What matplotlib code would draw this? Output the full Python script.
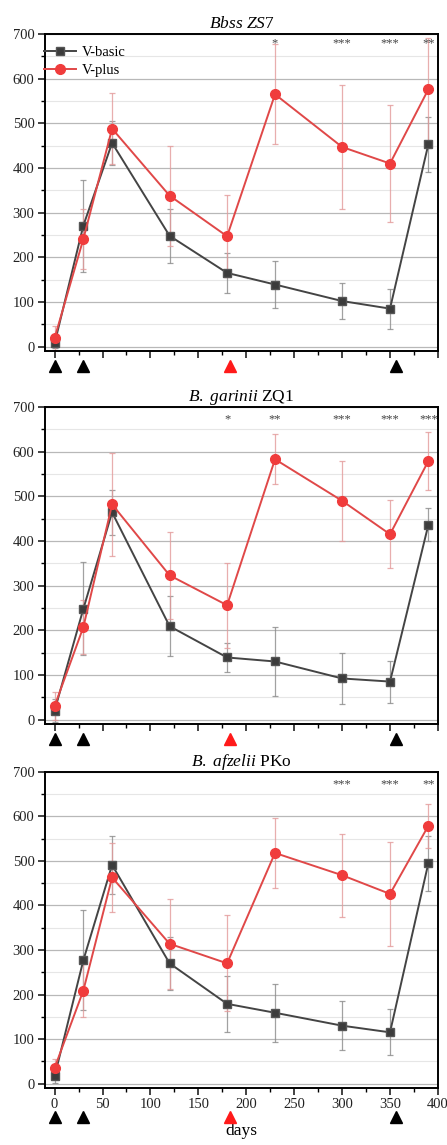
import matplotlib
matplotlib.use("Agg")
import matplotlib.pyplot as plt
import matplotlib.transforms as mtransforms
from matplotlib.ticker import MultipleLocator

plt.rcParams["font.family"] = ["Liberation Serif", "DejaVu Serif"]
plt.rcParams["mathtext.fontset"] = "custom"
plt.rcParams["mathtext.rm"] = "Liberation Serif"
plt.rcParams["mathtext.it"] = "Liberation Serif:italic"

days = [0, 30, 60, 120, 180, 230, 300, 350, 390]

titles = [r"$\it{Bbss\ ZS7}$", r"$\it{B.\ garinii}$ ZQ1", r"$\it{B.\ afzelii}$ PKo"]

basic_zs7 = [7, 271, 456, 248, 165, 139, 102, 85, 453]
basic_zs7_sd = [10, 103, 50, 61, 45, 52, 40, 45, 61]
plus_zs7 = [19, 241, 488, 338, 247, 565, 447, 410, 576]
plus_zs7_sd = [26, 68, 80, 112, 92, 112, 138, 131, 115]

basic_zq1 = [20, 248, 464, 209, 139, 130, 92, 85, 436]
basic_zq1_sd = [25, 104, 50, 67, 32, 77, 58, 47, 37]
plus_zq1 = [30, 207, 482, 323, 256, 583, 490, 415, 579]
plus_zq1_sd = [31, 61, 115, 98, 95, 56, 90, 76, 65]

basic_pko = [16, 277, 491, 270, 179, 159, 130, 115, 495]
basic_pko_sd = [15, 112, 65, 59, 63, 65, 55, 52, 62]
plus_pko = [35, 209, 463, 314, 270, 518, 468, 426, 579]
plus_pko_sd = [19, 60, 77, 101, 108, 78, 93, 117, 49]

# significance marks: (day, stars)
stars_zs7 = [(230, "*"), (300, "***"), (350, "***"), (390, "**")]
stars_zq1 = [(180, "*"), (230, "**"), (300, "***"), (350, "***"), (390, "***")]
stars_pko = [(300, "***"), (350, "***"), (390, "**")]
star_y = [680, 672, 672]

# immunisation days (triangles under the axis)
boost_black = [0, 30, 356]
boost_red = [183]

panels = [
    (basic_zs7, basic_zs7_sd, plus_zs7, plus_zs7_sd, stars_zs7),
    (basic_zq1, basic_zq1_sd, plus_zq1, plus_zq1_sd, stars_zq1),
    (basic_pko, basic_pko_sd, plus_pko, plus_pko_sd, stars_pko),
]

GRAY = "#3c3c3c"
RED = "#f03c3c"

fig = plt.figure(figsize=(4.47, 11.45), dpi=100)
ax_rects = [
    [0.1007, 0.6934, 0.879, 0.2769],
    [0.1007, 0.3677, 0.879, 0.2768],
    [0.1007, 0.0498, 0.879, 0.2760],
]

for i, (b, bsd, p, psd, stars) in enumerate(panels):
    ax = fig.add_axes(ax_rects[i])
    ax.set_xlim(-10, 400)
    ax.set_ylim(-10, 700)
    ax.yaxis.set_major_locator(MultipleLocator(100))
    ax.yaxis.set_minor_locator(MultipleLocator(50))
    ax.xaxis.set_major_locator(MultipleLocator(50))
    ax.xaxis.set_minor_locator(MultipleLocator(25))
    ax.grid(True, which="major", axis="y", color="#b8b8b8", lw=0.9)
    ax.grid(True, which="minor", axis="y", color="#e6e6e6", lw=0.8)
    ax.set_axisbelow(True)
    ax.tick_params(which="major", direction="out", length=5, width=1.2, labelsize=10.5,
                   colors="#222222", pad=2.5)
    ax.tick_params(which="minor", direction="out", length=3, width=1.0)
    for sp in ax.spines.values():
        sp.set_linewidth(1.4)
    if i < 2:
        ax.tick_params(axis="x", labelbottom=False)

    ax.errorbar(days, b, yerr=bsd, fmt="none", ecolor="#8a8a8a", elinewidth=0.9,
                capsize=2.5, capthick=0.9, alpha=0.8, zorder=2)
    ax.errorbar(days, p, yerr=psd, fmt="none", ecolor="#e39a9a", elinewidth=0.9,
                capsize=2.5, capthick=0.9, alpha=0.8, zorder=2)
    ax.plot(days, b, color="#444444", lw=1.4, marker="s", ms=6, mfc=GRAY,
            mec="#555555", label="V-basic", zorder=3)
    ax.plot(days, p, color="#e04848", lw=1.4, marker="o", ms=7, mfc=RED,
            mec=RED, label="V-plus", zorder=4)

    for d, s in stars:
        ax.text(d, star_y[i], s, ha="center", va="center", fontsize=9, color="#444444")

    ax.set_title(titles[i], fontsize=12.5, pad=4)

    trans = mtransforms.blended_transform_factory(ax.transData, ax.transAxes)
    ty = -0.092 if i == 2 else -0.046
    ax.plot(boost_black, [ty] * len(boost_black), "^", color="black", ms=8,
            transform=trans, clip_on=False)
    ax.plot(boost_red, [ty] * len(boost_red), "^", color="#ff1a1a", ms=8,
            transform=trans, clip_on=False)

    if i == 0:
        ax.legend(loc="upper left", bbox_to_anchor=(-0.025, 0.99), frameon=False,
                  fontsize=10.5, handlelength=2.2, handletextpad=0.4, labelspacing=0.3,
                  borderaxespad=0.2)
    if i == 2:
        ax.set_xlabel("days", fontsize=12.5, labelpad=8)

fig.savefig("out.png", dpi=100)
